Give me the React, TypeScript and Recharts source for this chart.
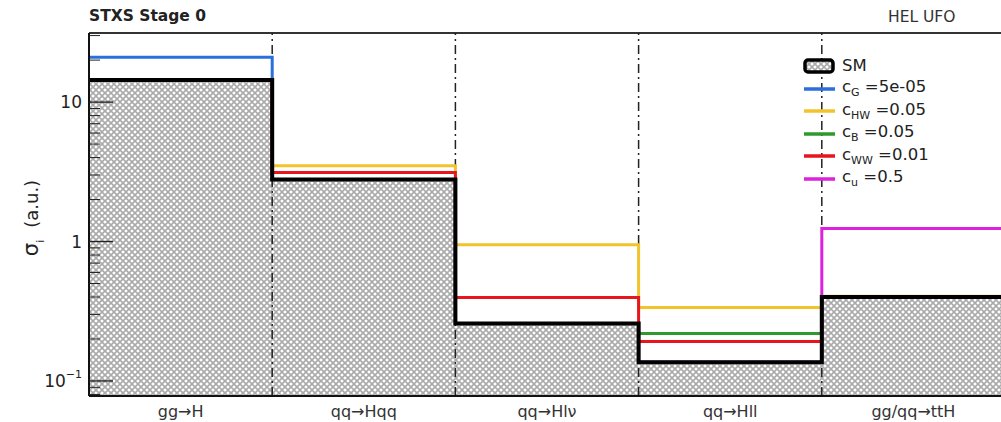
import {
  Area,
  ComposedChart,
  Line,
  ReferenceLine,
  XAxis,
  YAxis,
} from "recharts";

const BINS = ["gg→H", "qq→Hqq", "qq→Hlν", "qq→Hll", "gg/qq→ttH"];

const SM = [14.4, 2.78, 0.258, 0.136, 0.4];
const C_G = [21.0, 2.78, 0.258, 0.136, 0.4];
const C_HW = [14.4, 3.5, 0.95, 0.336, 0.405];
const C_B = [14.4, 2.78, 0.258, 0.219, 0.4];
const C_WW = [14.4, 3.12, 0.397, 0.192, 0.4];
const C_U = [14.4, 2.78, 0.258, 0.136, 1.24];

const SERIES = [
  { key: "cg", sub: "G", value: "5e-05", color: "#2a6fdb", data: C_G },
  { key: "chw", sub: "HW", value: "0.05", color: "#f2c42c", data: C_HW },
  { key: "cb", sub: "B", value: "0.05", color: "#2e9a2e", data: C_B },
  { key: "cww", sub: "WW", value: "0.01", color: "#e8161c", data: C_WW },
  { key: "cu", sub: "u", value: "0.5", color: "#dd22dd", data: C_U },
];

const DECADES = [0.1, 1, 10];
const MINOR = [0.08, 0.09, 0.2, 0.3, 0.4, 0.5, 0.6, 0.7, 0.8, 0.9, 2, 3, 4, 5, 6, 7, 8, 9, 20, 30];

const Y_MIN = 0.078;
const Y_MAX = 31.3;
const PLOT_LEFT = 89;
const FONT = "'DejaVu Sans', Verdana, sans-serif";

// one point per bin edge, last value repeated so the step closes at the right edge
const rows = Array.from({ length: BINS.length + 1 }, (_, i) => {
  const j = Math.min(i, BINS.length - 1);
  const row: Record<string, number> = { x: i, sm: SM[j] };
  SERIES.forEach((s) => (row[s.key] = s.data[j]));
  return row;
});

function YTick({ y, payload }: { y?: number; payload?: { value: number } }) {
  const v = payload?.value ?? 0;
  const major = DECADES.some((d) => Math.abs(d - v) < 1e-9);
  return (
    <g>
      <line
        x1={PLOT_LEFT}
        x2={PLOT_LEFT + (major ? 24 : 11)}
        y1={y}
        y2={y}
        stroke="#222"
        strokeWidth={major ? 1.4 : 1}
      />
      {major && (
        <text
          x={PLOT_LEFT - 7}
          y={y}
          textAnchor="end"
          dominantBaseline="central"
          fontSize={17}
          fill="#222"
          fontFamily={FONT}
        >
          {v < 0.5 ? (
            <>
              10
              <tspan dy={-7} fontSize={11}>
                −1
              </tspan>
            </>
          ) : (
            String(v)
          )}
        </text>
      )}
    </g>
  );
}

function YTitle() {
  return (
    <text
      transform="translate(38 218) rotate(-90)"
      textAnchor="middle"
      fontSize={18}
      fill="#222"
      fontFamily={FONT}
    >
      <tspan fontSize={21}>σ</tspan>
      <tspan dy={6} fontSize={11}>
        i
      </tspan>
      <tspan dx={12} dy={-6}>
        (a.u.)
      </tspan>
    </text>
  );
}

function Hatch({ id }: { id: string }) {
  return (
    <pattern id={id} width={6} height={6} patternUnits="userSpaceOnUse">
      <rect width={6} height={6} fill="#fff" />
      <path d="M0,0 L6,6 M6,0 L0,6" stroke="#aaaaaa" strokeWidth={1.6} />
    </pattern>
  );
}

function LegendBox() {
  const row = { display: "flex", alignItems: "center", height: 22.5 } as const;
  return (
    <div
      style={{
        position: "absolute",
        left: 803,
        top: 55,
        fontFamily: FONT,
        fontSize: 16.5,
        color: "#222",
        lineHeight: 1,
      }}
    >
      <div style={row}>
        <svg width={32} height={16}>
          <defs>
            <Hatch id="hatchLegend" />
          </defs>
          <rect x={2} y={2} width={28} height={12} rx={3} fill="url(#hatchLegend)" stroke="#000" strokeWidth={3.5} />
        </svg>
        <span style={{ marginLeft: 7 }}>SM</span>
      </div>
      {SERIES.map((s) => (
        <div key={s.key} style={row}>
          <svg width={32} height={16}>
            <line x1={1} x2={33} y1={8} y2={8} stroke={s.color} strokeWidth={3.5} />
          </svg>
          <span style={{ marginLeft: 7 }}>
            c<sub style={{ fontSize: 11, verticalAlign: -4 }}>{s.sub}</sub> ={s.value}
          </span>
        </div>
      ))}
    </div>
  );
}

export default function App() {
  return (
    <div
      style={{
        position: "absolute",
        left: 0,
        top: 0,
        width: 1001,
        height: 422,
        overflow: "hidden",
        background: "#fff",
      }}
    >
      <div
        style={{
          position: "absolute",
          left: 89,
          top: 7,
          fontFamily: FONT,
          fontWeight: "bold",
          fontSize: 15.5,
          color: "#222",
        }}
      >
        STXS Stage 0
      </div>
      <div
        style={{
          position: "absolute",
          left: 888,
          top: 8,
          fontFamily: FONT,
          fontSize: 15.5,
          color: "#333",
        }}
      >
        HEL UFO
      </div>
      <ComposedChart
        width={1006}
        height={422}
        data={rows}
        margin={{ top: 33, right: 1, bottom: 0, left: 0 }}
        style={{ position: "absolute", left: 0, top: 0 }}
      >
        <defs>
          <Hatch id="hatch" />
        </defs>
        <Area
          type="stepAfter"
          dataKey="sm"
          baseValue={Y_MIN}
          stroke="none"
          fill="url(#hatch)"
          fillOpacity={1}
          isAnimationActive={false}
        />
        <XAxis
          type="number"
          dataKey="x"
          domain={[0, 5]}
          ticks={[0.5, 1.5, 2.5, 3.5, 4.5]}
          interval={0}
          tickFormatter={(v: number) => BINS[Math.floor(v)]}
          tickLine={false}
          axisLine={{ stroke: "#111", strokeWidth: 2 }}
          tick={{ fontSize: 16, fill: "#333", fontFamily: FONT }}
          tickMargin={4}
          height={26}
          allowDataOverflow
        />
        <YAxis
          scale="log"
          type="number"
          domain={[Y_MIN, Y_MAX]}
          ticks={[...DECADES, ...MINOR]}
          interval={0}
          allowDataOverflow
          width={PLOT_LEFT}
          tickLine={false}
          axisLine={{ stroke: "#111", strokeWidth: 2 }}
          tick={<YTick />}
          label={<YTitle />}
        />
        <ReferenceLine y={Y_MAX} stroke="#333" strokeWidth={2} />
        {[1, 2, 3, 4].map((b) => (
          <ReferenceLine
            key={b}
            x={b}
            stroke="#222"
            strokeWidth={1.5}
            strokeDasharray="9 4 2 4"
          />
        ))}
        {SERIES.map((s) => (
          <Line
            key={s.key}
            type="stepAfter"
            dataKey={s.key}
            stroke={s.color}
            strokeWidth={3}
            dot={false}
            isAnimationActive={false}
          />
        ))}
        <Line
          type="stepAfter"
          dataKey="sm"
          stroke="#000"
          strokeWidth={4}
          dot={false}
          isAnimationActive={false}
        />
      </ComposedChart>
      <LegendBox />
    </div>
  );
}
